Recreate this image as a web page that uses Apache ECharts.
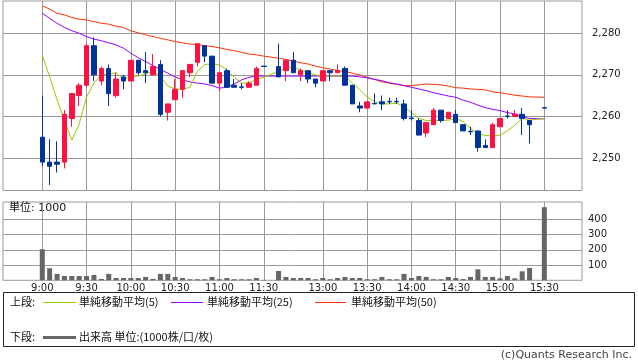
<!DOCTYPE html>
<html><head><meta charset="utf-8">
<script src="https://cdn.jsdelivr.net/npm/echarts@6/dist/echarts.min.js"></script>
<style>html,body{margin:0;padding:0;background:#fff}#c{width:638px;height:362px}</style>
</head><body><div id="c"></div>
<script>
// 5-minute bars (morning 9:00-11:30, afternoon 12:30-15:30; 15:25 has no trade)
const times = ['9:00','9:05','9:10','9:15','9:20','9:25','9:30','9:35','9:40','9:45','9:50','9:55',
 '10:00','10:05','10:10','10:15','10:20','10:25','10:30','10:35','10:40','10:45','10:50','10:55',
 '11:00','11:05','11:10','11:15','11:20','11:25','11:30',
 '12:30','12:35','12:40','12:45','12:50','12:55','13:00','13:05','13:10','13:15','13:20','13:25',
 '13:30','13:35','13:40','13:45','13:50','13:55','14:00','14:05','14:10','14:15','14:20','14:25',
 '14:30','14:35','14:40','14:45','14:50','14:55','15:00','15:05','15:10','15:15','15:20','15:30'];
const opens = [2255,2249,2249,2249,2259.5,2265,2267.5,2277,2268.5,2271.5,2265,2269.5,2268.5,2273.5,2271,2270,2272.5,2261,2264,2266.5,2270.5,2273,2277,2274.5,2268,2271,2267.5,2267.1,2267,2267.5,2272.1,
 2272,2271,2273.5,2270,2271,2269,2268.5,2271,2270.5,2271.5,2267.5,2262.5,2262,2263.1,2263.5,2263.6,2263.6,2263,2259.6,2259,2256,2258,2261.5,2259.5,2260.5,2258,2256.4,2256.5,2253,2252.5,2257.5,2260.1,2260,2260.5,2259,2262.1];
const closes = [2249,2248,2248.5,2260.5,2265.5,2267.5,2277,2270,2271.5,2265.5,2269,2268.5,2273.5,2270.5,2270.5,2272,2260.5,2263,2266.5,2271,2272.5,2277.5,2274.5,2268,2270.5,2267,2267,2267,2268,2271.5,2272,
 2269.5,2273.5,2270.5,2271,2269,2268,2271,2270.5,2271,2267.5,2263,2262,2263.5,2263,2263,2263.5,2263.5,2259.5,2259.5,2255.5,2258.5,2261.5,2259,2261,2258.5,2256.5,2256.3,2252.5,2252.5,2258,2259.5,2260,2260.5,2259.5,2258,2262];
const lows = [2248,2243.5,2246.5,2247.5,2257.5,2262.5,2267,2268.5,2267.5,2262.5,2264.5,2266.5,2268.5,2270,2268,2270,2260,2259,2264,2264.5,2269.5,2272,2273,2268,2266,2267,2267,2266.5,2267,2267.5,2272,
 2269.5,2268.5,2270.5,2268.5,2268,2267,2268.5,2268.5,2270.5,2267.5,2263,2261,2262,2263,2261.5,2263,2263,2259,2259,2255.5,2255,2258,2258.5,2259.5,2258.5,2256.5,2255.5,2251.5,2252.5,2252.5,2257.5,2259.5,2260,2255.5,2253.5,2262];
const highs = [2265,2254.5,2254,2261.5,2265.5,2268,2277.5,2279,2272,2272.5,2270.5,2270,2273.5,2273.5,2275.5,2275,2273.5,2263,2269,2271,2272.5,2277.5,2277,2274.5,2270.5,2271.5,2269,2268,2268.5,2272,2272.1,
 2277.5,2273.5,2275.5,2271.5,2271,2269,2271,2271,2272.5,2272,2267.5,2263.5,2263.5,2265.5,2265,2264.5,2264.5,2264,2261.5,2259.5,2258.5,2262,2261.5,2261,2261.5,2258,2257.5,2256.5,2254.5,2258.5,2259.5,2261.5,2261.5,2262,2259,2262.1];
const volumes = [203,79,42,28,28,28,28,35,9,42,15,15,15,15,22,9,42,42,22,15,7,7,7,22,7,15,7,7,7,15,2,
 61,22,15,15,15,7,15,7,15,22,15,15,7,7,22,7,7,42,15,28,22,7,7,22,15,8,22,72,22,22,13,28,13,59,81,479];
const ma5 = [2274.8,2269.5,2264,2259,2254.3,2258.2,2264.7,2268,2270,2270.2,2270.5,2268.9,2269.6,2269.7,2270.2,2271,2269.5,2267.3,2266.6,2266.5,2267,2270.8,2272.5,2272.6,2272.4,2271.2,2269.4,2268,2268.1,2268.9,2269.4,
 2270.8,2271.7,2271.7,2271.2,2270.5,2270,2269.7,2269.7,2269.7,2269.7,2268,2266.4,2264.7,2263.5,2263,2263,2263.2,2262.3,2260.9,2259.5,2259,2259,2259,2259.1,2259.5,2258.7,2257.1,2255.9,2255.4,2255.3,2255.5,2256.5,2257.9,2259.5,2259.1,2259.5];
const ma25 = [2284.8,2283.6,2282.4,2281.4,2280.6,2280,2279.2,2278.6,2278.2,2277.7,2277.2,2276.4,2275.2,2274.1,2273.2,2272.2,2271.3,2270.4,2269.5,2268.8,2268.3,2268,2267.8,2267.4,2266.8,2267,2267.8,2268.8,2269.4,2269.7,2269.7,
 2269.7,2269.7,2269.7,2269.7,2269.7,2269.7,2269.7,2269.7,2269.7,2269.7,2269.7,2269.5,2269.3,2268.9,2268.6,2268.1,2267.8,2267.4,2267,2266.6,2266.2,2265.7,2265.3,2264.9,2264.6,2263.9,2263.4,2262.7,2262.1,2261.7,2261.4,2260.9,2260.6,2259.9,2259.5,2259.4];
const ma50 = [2286.6,2285.8,2284.8,2284.4,2283.8,2283.4,2283.2,2282.8,2282.4,2282.2,2281.7,2281.4,2280.6,2280.1,2279.6,2279.2,2278.8,2278.4,2278,2277.7,2277.4,2277.3,2277,2276.8,2276.5,2276.1,2275.8,2275.4,2275,2274.8,2274.5,
 2274,2273.7,2273.3,2272.9,2272.6,2272.1,2271.7,2271.4,2271,2270.8,2270.4,2270,2269.4,2268.9,2268.3,2268,2267.7,2267.4,2267.4,2267.6,2267.8,2267.7,2267.6,2267.3,2266.9,2266.8,2266.6,2266.5,2266.4,2265.9,2265.7,2265.4,2265.1,2264.9,2264.7,2264.6];
const tickTimes = ['9:00','9:30','10:00','10:30','11:00','11:30','13:00','13:30','14:00','14:30','15:00','15:30'];
const priceTicks = [2250,2260,2270,2280];
const volumeTicks = [100,200,300,400];

// session slot index (one empty slot kept for the lunch break)
function slot(t){ const p=t.split(':').map(Number); const m=p[0]*60+p[1]; return m<=690?(m-540)/5:32+(m-750)/5; }
const xs = times.map(slot);
const tickSlots = tickTimes.map(slot);
const labelOf = v => { const i = tickSlots.indexOf(Math.round(v)); return i>=0?tickTimes[i]:''; };

const RED='#ff1144', BLUE='#003399', GRID='#9a9a9a';
const NUMFONT='DejaVu Sans';
const JP='"Noto Sans CJK JP"';

const chart = echarts.init(document.getElementById('c'), null, {renderer:'canvas'});
const xCommon = {type:'value', min:-5.32, max:73.1, axisLine:{show:false},
  axisTick:{show:false, customValues:tickSlots},
  splitLine:{show:true, lineStyle:{color:GRID, width:1}}};
chart.setOption({
  animation:false,
  backgroundColor:'#fff',
  grid:[
    {left:3, right:56, top:1, height:189.5, show:true, borderColor:GRID, borderWidth:1, backgroundColor:'transparent'},
    {left:3, right:56, top:202, height:78.3, show:true, borderColor:GRID, borderWidth:1, backgroundColor:'transparent'}
  ],
  xAxis:[
    Object.assign({gridIndex:0, axisLabel:{show:false, customValues:tickSlots}}, xCommon),
    Object.assign({gridIndex:1, axisLabel:{show:true, customValues:tickSlots, formatter:labelOf,
      fontSize:10, fontFamily:NUMFONT, color:'#222', margin:3}}, xCommon)
  ],
  yAxis:[
    {type:'value', gridIndex:0, position:'right', min:2242.17, max:2287.76,
     axisLine:{show:false},
     axisTick:{show:true, length:6, customValues:priceTicks, lineStyle:{color:GRID}},
     axisLabel:{customValues:priceTicks, formatter:v=>Number(v).toLocaleString('en-US'),
       fontSize:10, fontFamily:NUMFONT, color:'#222', margin:10},
     splitLine:{show:true, lineStyle:{color:GRID, width:1}}},
    {type:'value', gridIndex:1, position:'right', min:0, max:513,
     axisLine:{show:false},
     axisTick:{show:true, length:4, customValues:volumeTicks, lineStyle:{color:GRID}},
     axisLabel:{customValues:volumeTicks, fontSize:10, fontFamily:NUMFONT, color:'#222', margin:6},
     splitLine:{show:true, lineStyle:{color:GRID, width:1}}}
  ],
  series:[
    {name:'単純移動平均(50)', type:'line', xAxisIndex:0, yAxisIndex:0, symbol:'none', z:2,
     data:xs.map((x,i)=>[x,ma50[i]]), lineStyle:{color:'#ff3300', width:1}},
    {name:'単純移動平均(25)', type:'line', xAxisIndex:0, yAxisIndex:0, symbol:'none', z:2,
     data:xs.map((x,i)=>[x,ma25[i]]), lineStyle:{color:'#9900ff', width:1}},
    {name:'単純移動平均(5)', type:'line', xAxisIndex:0, yAxisIndex:0, symbol:'none', z:2,
     data:xs.map((x,i)=>[x,ma5[i]]), lineStyle:{color:'#99cc00', width:1}},
    {name:'株価', type:'candlestick', xAxisIndex:0, yAxisIndex:0, z:3, barWidth:5,
     encode:{x:0, y:[1,2,3,4]},
     data:xs.map((x,i)=>[x,opens[i],closes[i],lows[i],highs[i]]),
     itemStyle:{color:RED, color0:BLUE, borderColor:RED, borderColor0:BLUE, borderWidth:1}},
    {name:'出来高', type:'bar', xAxisIndex:1, yAxisIndex:1, barWidth:5,
     data:xs.map((x,i)=>[x,volumes[i]]), itemStyle:{color:'#666'}}
  ],
  graphic:[
    {type:'text', left:9, top:203, style:{text:'単位: 1000', font:'11px "DejaVu Sans", '+JP, fill:'#111'}},
    {type:'rect', shape:{x:3.5, y:292.5, width:631, height:54}, style:{fill:'none', stroke:'#222', lineWidth:1}},
    {type:'text', x:10, y:302, style:{text:'上段:', font:'11px '+JP, fill:'#111', verticalAlign:'middle'}},
    {type:'line', shape:{x1:43, y1:302.5, x2:76, y2:302.5}, style:{stroke:'#99cc00', lineWidth:1}},
    {type:'text', x:79, y:302, style:{text:'単純移動平均(5)', font:'11px '+JP, fill:'#111', verticalAlign:'middle'}},
    {type:'line', shape:{x1:171, y1:302.5, x2:203, y2:302.5}, style:{stroke:'#9900ff', lineWidth:1}},
    {type:'text', x:207, y:302, style:{text:'単純移動平均(25)', font:'11px '+JP, fill:'#111', verticalAlign:'middle'}},
    {type:'line', shape:{x1:315, y1:302.5, x2:346, y2:302.5}, style:{stroke:'#ff3300', lineWidth:1}},
    {type:'text', x:351, y:302, style:{text:'単純移動平均(50)', font:'11px '+JP, fill:'#111', verticalAlign:'middle'}},
    {type:'text', x:10, y:337, style:{text:'下段:', font:'11px '+JP, fill:'#111', verticalAlign:'middle'}},
    {type:'line', shape:{x1:43, y1:337.5, x2:76, y2:337.5}, style:{stroke:'#666', lineWidth:3}},
    {type:'text', x:79, y:337, style:{text:'出来高 単位:(1000株/口/枚)', font:'11px '+JP, fill:'#111', verticalAlign:'middle'}},
    {type:'text', right:6, top:350, style:{text:'(c)Quants Research Inc.', font:'11px "DejaVu Sans", '+JP, fill:'#444'}}
  ]
});
</script></body></html>
